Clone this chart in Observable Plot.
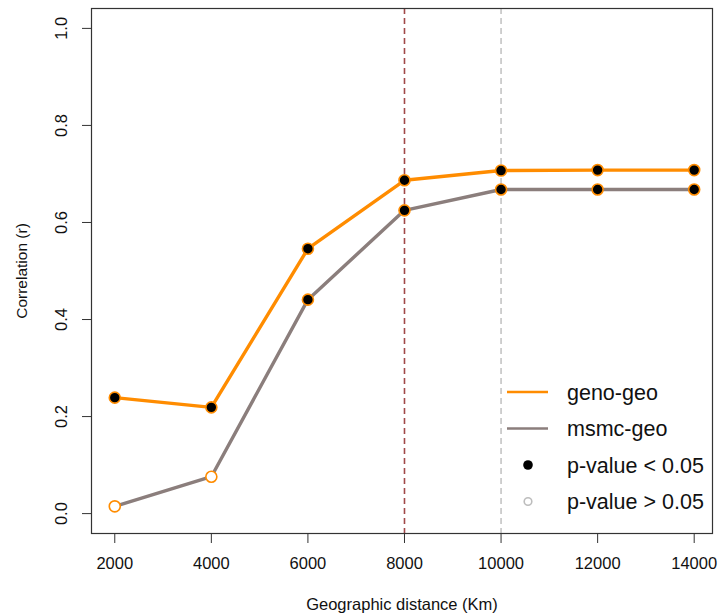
<!DOCTYPE html>
<html>
<head>
<meta charset="utf-8">
<script src="https://cdn.jsdelivr.net/npm/d3@7"></script>
<script src="https://cdn.jsdelivr.net/npm/@observablehq/plot@0.6"></script>
<style>
  html, body { margin: 0; padding: 0; background: #fff; }
  #chart svg { display: block; }
</style>
</head>
<body>
<div id="chart"></div>
<script>
// ---- data ----
const distances = [2000, 4000, 6000, 8000, 10000, 12000, 14000];
const genoGeo   = [0.239, 0.219, 0.546, 0.687, 0.707, 0.708, 0.708];
const msmcGeo   = [0.015, 0.076, 0.441, 0.625, 0.668, 0.668, 0.668];
const genoSig   = [true, true, true, true, true, true, true];
const msmcSig   = [false, false, true, true, true, true, true];
const xTicks    = [2000, 4000, 6000, 8000, 10000, 12000, 14000];
const yTicks    = [0, 0.2, 0.4, 0.6, 0.8, 1.0];
const refLines  = [8000, 10000];
const refColors = ["#a04848", "#c4c4c4"];
const seriesNames  = ["geno-geo", "msmc-geo"];
const seriesColors = ["#ff8c00", "#8b7e7c"];
const legendLabels = ["geno-geo", "msmc-geo", "p-value < 0.05", "p-value > 0.05"];

const rows = [];
distances.forEach((d, i) => {
  rows.push({series: seriesNames[0], x: d, y: genoGeo[i], sig: genoSig[i]});
  rows.push({series: seriesNames[1], x: d, y: msmcGeo[i], sig: msmcSig[i]});
});
const refs = refLines.map((x, i) => ({x, color: refColors[i]}));

const font = "'Liberation Sans', Arial, Helvetica, sans-serif";

function legendMark(index, scales, values, dims) {
  const g = d3.create("svg:g").attr("font-family", font).attr("font-size", 21.5)
    .attr("fill", "#111").attr("text-anchor", "start");
  const x0 = 507, x1 = 548, xd = 528, xt = 567;
  const ys = [392, 428.5, 465, 501.5];
  legendLabels.forEach((lab, i) => {
    const y = ys[i];
    if (i < 2) {
      g.append("line").attr("x1", x0).attr("x2", x1).attr("y1", y).attr("y2", y)
        .attr("stroke", seriesColors[i]).attr("stroke-width", 2.5);
    } else if (i === 2) {
      g.append("circle").attr("cx", xd).attr("cy", y).attr("r", 4.8).attr("fill", "#000");
    } else {
      g.append("circle").attr("cx", xd).attr("cy", y).attr("r", 3.8).attr("fill", "none")
        .attr("stroke", "#bdbdbd").attr("stroke-width", 1.6);
    }
    g.append("text").attr("x", xt).attr("y", y).attr("dy", "0.36em")
      .attr("text-anchor", "start").text(lab);
  });
  return g.node();
}

const chart = Plot.plot({
  width: 721,
  height: 616,
  marginLeft: 91,
  marginRight: 9,
  marginTop: 8,
  marginBottom: 83,
  style: {fontFamily: font, fontSize: "16.5px", color: "#111", background: "#fff"},
  x: {domain: [1518, 14379], axis: null},
  y: {domain: [-0.041, 1.041], axis: null},
  marks: [
    Plot.ruleX(refs, {x: "x", stroke: "color", strokeWidth: 1.6, strokeDasharray: "6,4"}),
    Plot.line(rows, {x: "x", y: "y", z: "series", stroke: d => seriesColors[seriesNames.indexOf(d.series)], strokeWidth: 3.4}),
    Plot.dot(rows, {x: "x", y: "y", r: 5.5, fill: d => d.sig ? "#000" : "#fff", stroke: "#ff8c00", strokeWidth: 1.6}),
    Plot.frame({stroke: "#333", strokeWidth: 1.2}),
    Plot.axisX(xTicks, {tickSize: 10, tickFormat: () => "", label: null, stroke: "#333"}),
    Plot.axisY(yTicks, {tickSize: 9, tickFormat: () => "", label: null, stroke: "#333"}),
    Plot.text(xTicks, {x: d => d, frameAnchor: "bottom", dy: 30, lineAnchor: "middle", text: d => String(d), fontSize: 16.5, fill: "#111"}),
    Plot.text(yTicks, {y: d => d, frameAnchor: "left", dx: -30, rotate: -90, textAnchor: "middle", lineAnchor: "middle", text: d => d.toFixed(1), fontSize: 16.5, fill: "#111"}),
    Plot.text(["Geographic distance (Km)"], {frameAnchor: "bottom", dy: 71, lineAnchor: "middle", text: d => d, fontSize: 16.5, fill: "#111"}),
    Plot.text(["Correlation (r)"], {frameAnchor: "left", dx: -69, rotate: -90, textAnchor: "middle", lineAnchor: "middle", text: d => d, fontSize: 15.5, fill: "#111"}),
    legendMark
  ]
});
document.getElementById("chart").appendChild(chart);
</script>
</body>
</html>
